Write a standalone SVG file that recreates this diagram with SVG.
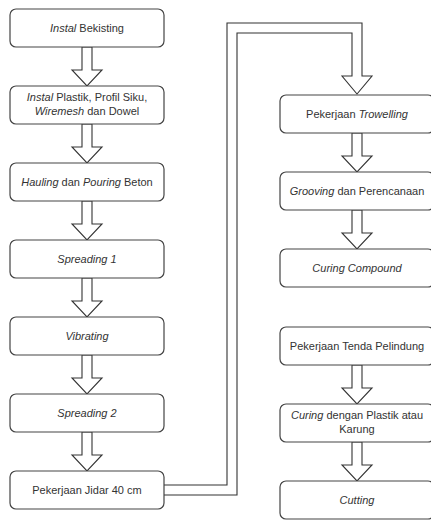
<svg xmlns="http://www.w3.org/2000/svg" width="431" height="523" viewBox="0 0 431 523">
<style>
.box{fill:#fff;stroke:#444;stroke-width:1.2}
.t{font-family:"Liberation Sans",Arial,sans-serif;font-size:11px;fill:#333;text-anchor:middle}
.i{font-style:italic}
.arr{fill:#fff;stroke:#333;stroke-width:1.1}
</style>
<defs>
<path id="arrow" d="M-5,0 L5,0 L5,23 L15,23 L0,39 L-15,23 L-5,23 Z"/>
</defs>
<rect width="431" height="523" fill="#fff"/>
<g id="connectors">
<use href="#arrow" class="arr" x="87" y="47"/>
<use href="#arrow" class="arr" x="87" y="124"/>
<use href="#arrow" class="arr" x="87" y="201"/>
<use href="#arrow" class="arr" x="87" y="278"/>
<use href="#arrow" class="arr" x="87" y="355"/>
<use href="#arrow" class="arr" x="87" y="432"/>
<path class="arr" d="M164,485 L227,485 L227,23 L362,23 L362,76 L372,76 L357,94 L342,76 L352,76 L352,33 L237,33 L237,495 L164,495"/>
<use href="#arrow" class="arr" x="357" y="133"/>
<use href="#arrow" class="arr" x="357" y="210"/>
<use href="#arrow" class="arr" x="357" y="365"/>
<use href="#arrow" class="arr" x="357" y="442"/>
</g>
<g id="n1"><rect class="box" x="10" y="9" width="154" height="38" rx="6"/><text class="t" x="87" y="32"><tspan class="i">Instal</tspan> Bekisting</text></g>
<g id="n2"><rect class="box" x="10" y="86" width="154" height="38" rx="6"/><text class="t" x="87" y="101"><tspan class="i">Instal</tspan> Plastik, Profil Siku,</text><text class="t" x="87" y="115"><tspan class="i">Wiremesh</tspan> dan Dowel</text></g>
<g id="n3"><rect class="box" x="10" y="163" width="154" height="38" rx="6"/><text class="t" x="87" y="186"><tspan class="i">Hauling</tspan> dan <tspan class="i">Pouring</tspan> Beton</text></g>
<g id="n4"><rect class="box" x="10" y="240" width="154" height="38" rx="6"/><text class="t i" x="87" y="263">Spreading 1</text></g>
<g id="n5"><rect class="box" x="10" y="317" width="154" height="38" rx="6"/><text class="t i" x="87" y="340">Vibrating</text></g>
<g id="n6"><rect class="box" x="10" y="394" width="154" height="38" rx="6"/><text class="t i" x="87" y="417">Spreading 2</text></g>
<g id="n7"><rect class="box" x="10" y="471" width="154" height="38" rx="6"/><text class="t" x="87" y="494">Pekerjaan Jidar 40 cm</text></g>
<g id="n8"><rect class="box" x="280" y="95" width="154" height="38" rx="6"/><text class="t" x="357" y="118">Pekerjaan <tspan class="i">Trowelling</tspan></text></g>
<g id="n9"><rect class="box" x="280" y="172" width="154" height="38" rx="6"/><text class="t" x="357" y="195"><tspan class="i">Grooving</tspan> dan Perencanaan</text></g>
<g id="n10"><rect class="box" x="280" y="249" width="154" height="38" rx="6"/><text class="t i" x="357" y="272">Curing Compound</text></g>
<g id="n11"><rect class="box" x="280" y="327" width="154" height="38" rx="6"/><text class="t" x="357" y="350">Pekerjaan Tenda Pelindung</text></g>
<g id="n12"><rect class="box" x="280" y="404" width="154" height="38" rx="6"/><text class="t" x="357" y="419"><tspan class="i">Curing</tspan> dengan Plastik atau</text><text class="t" x="357" y="433">Karung</text></g>
<g id="n13"><rect class="box" x="280" y="481" width="154" height="38" rx="6"/><text class="t i" x="357" y="504">Cutting</text></g>
</svg>
